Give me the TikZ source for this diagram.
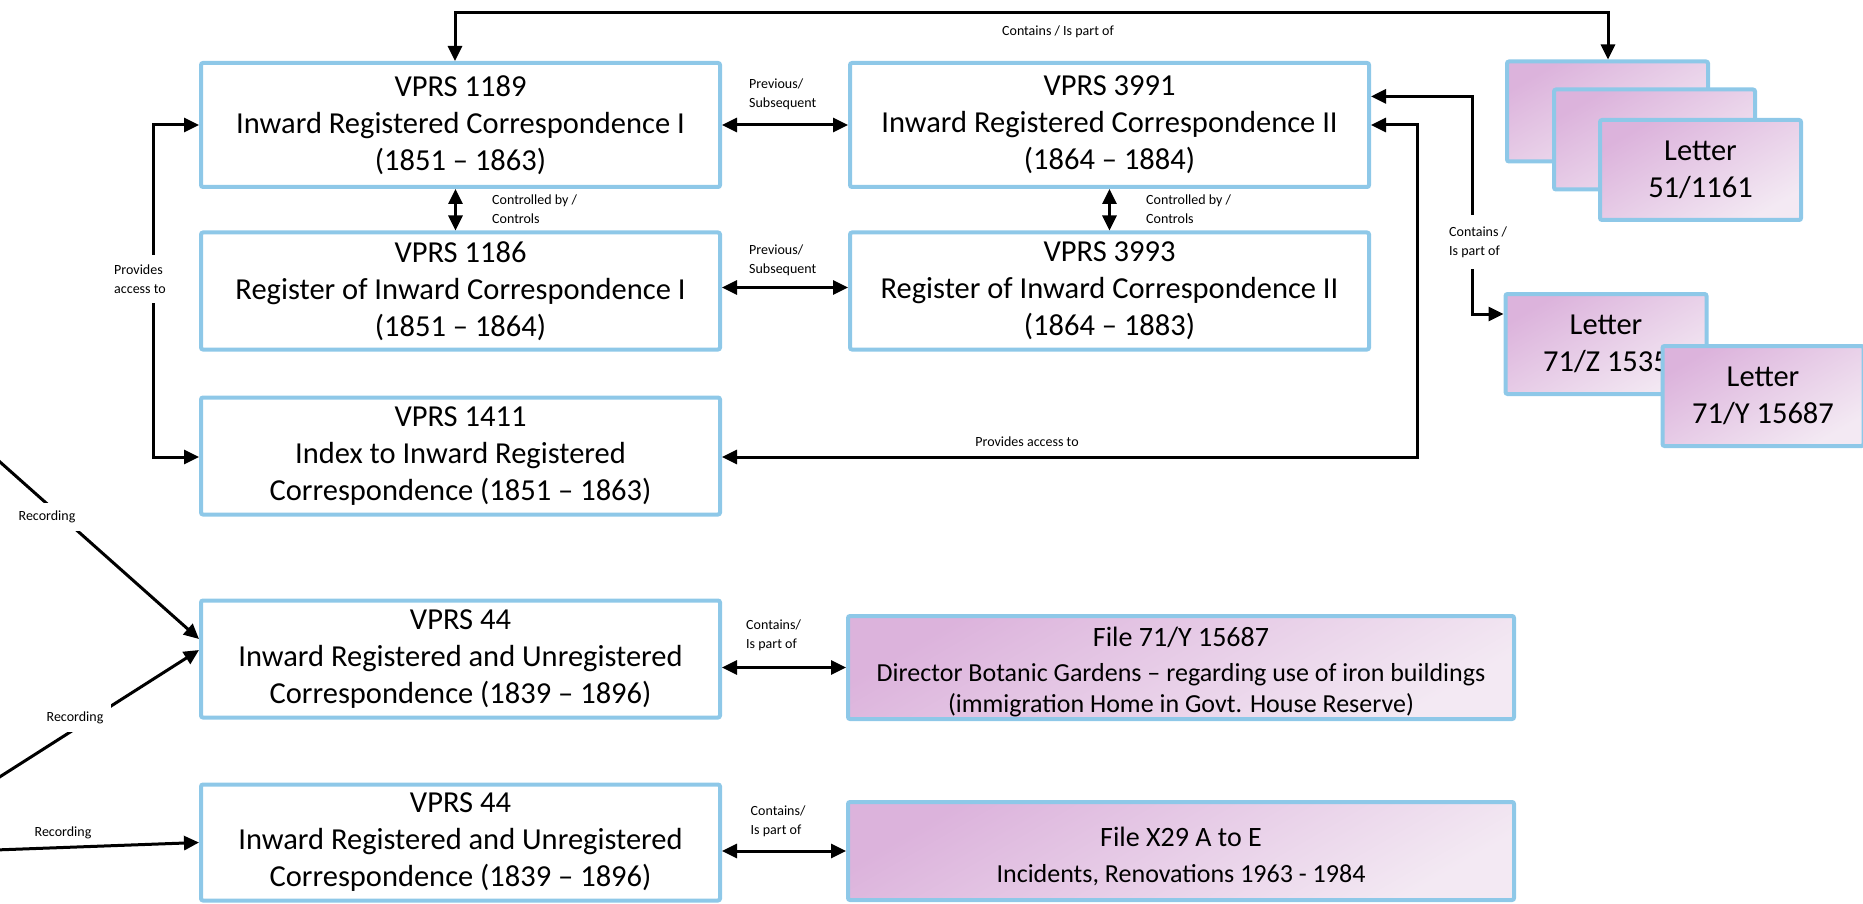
\documentclass[tikz,border=0pt]{standalone}
\usepackage{fontspec}
\setmainfont{Carlito}
\usetikzlibrary{arrows.meta}
\definecolor{bblue}{HTML}{8EC8E8}
\definecolor{ptop}{HTML}{DCB3DC}
\definecolor{pbot}{HTML}{F3E9F3}
\tikzset{
  vbox/.style={draw=bblue, line width=4pt, fill=white, rounded corners=2pt, align=center,
    font=\fontsize{30.5}{37}\selectfont, inner sep=0pt, minimum width=519pt, minimum height=124pt},
  pbox/.style={draw=bblue, line width=4pt, rounded corners=2pt, align=center,
    top color=ptop, bottom color=pbot, shading angle=30, inner sep=0pt},
  lbox/.style={pbox, font=\fontsize{30.5}{37}\selectfont, minimum width=201pt, minimum height=100pt},
  fbox/.style={pbox, minimum width=666pt},
  ftext/.style={align=center, inner sep=0pt, font=\fontsize{26}{31}\selectfont},
  conn/.style={line width=3pt, >={Triangle[length=15pt,width=14pt]}},
  lab/.style={font=\fontsize{14}{19}\selectfont, inner sep=0pt, align=left},
  wlab/.style={lab, fill=white, inner xsep=3pt, inner ysep=10pt}
}
\begin{document}
\begin{tikzpicture}[x=1pt, y=-1pt]
\useasboundingbox (0,0) rectangle (1863,904);
\clip (0,0) rectangle (1863,904);

% series boxes
\node[vbox] (A) at (460.5,125) {VPRS 1189\\Inward Registered Correspondence I\\(1851 -- 1863)};
\node[vbox, minimum height=117pt] (B) at (460.5,291) {VPRS 1186\\Register of Inward Correspondence I\\(1851 -- 1864)};
\node[vbox, minimum height=117pt] (C) at (460.5,456) {VPRS 1411\\Index to Inward Registered\\Correspondence (1851 -- 1863)};
\node[vbox] (D) at (1109.5,125) {VPRS 3991\\Inward Registered Correspondence II\\(1864 -- 1884)};
\node[vbox, minimum height=117pt] (E) at (1109.5,291) {VPRS 3993\\Register of Inward Correspondence II\\(1864 -- 1883)};
\node[vbox, minimum height=117pt] (F) at (460.5,659) {VPRS 44\\Inward Registered and Unregistered\\Correspondence (1839 -- 1896)};
\node[vbox, minimum height=116pt] (G) at (460.5,842.5) {VPRS 44\\Inward Registered and Unregistered\\Correspondence (1839 -- 1896)};

% file boxes
\node[fbox, minimum height=103pt] (H) at (1181,667.5) {};
\node[ftext] (Ht) at (1181,672.5)
  {{\fontsize{28}{34}\selectfont File 71/Y 15687}\\[4pt]Director Botanic Gardens -- regarding use of iron buildings\\(immigration Home in Govt. House Reserve)};
\node[fbox, minimum height=98pt] (I) at (1181,851) {};
\node[ftext] (It) at (1181,856)
  {{\fontsize{28}{34}\selectfont File X29 A to E}\\[5pt]Incidents, Renovations 1963 - 1984};

% letter boxes
\node[lbox] (L1) at (1607.5,111.5) {};
\node[lbox] (L2) at (1654.5,139.5) {};
\node[lbox] (L3) at (1700.5,170) {Letter\\51/1161};
\node[lbox] (L4) at (1606,344) {Letter\\71/Z 1535};
\node[lbox] (L5) at (1763,396) {Letter\\71/Y 15687};

% helper coordinates
\coordinate (tA) at (455,13);
\coordinate (tL) at (1608,13);
\coordinate (pl) at (153,280);
\coordinate (cx) at (1472.7,240);
\coordinate (rx) at (1417,300);
\coordinate (src1) at (-100,373);
\coordinate (src2) at (-100,840.4);
\coordinate (src3) at (-100,853.5);

% connectors
\draw[conn,<->] (A.north -| tA) -- (tA) -- (tL) -- (L1.north -| tL);
\node[lab] (lt) at (1058,32) {Contains / Is part of};

\draw[conn,<->] (A.east) -- (D.west);
\node[lab, anchor=west] (lp1) at (749,94) {Previous/\\Subsequent};
\draw[conn,<->] ([yshift=3.5pt]B.east) -- ([yshift=3.5pt]E.west);
\node[lab, anchor=west] (lp2) at (749,260.5) {Previous/\\Subsequent};

\draw[conn,<->] ([xshift=-5pt]A.south) -- ([xshift=-5pt]B.north);
\node[lab, anchor=west] (lc1) at (492,209.5) {Controlled by /\\Controls};
\draw[conn,<->] (D.south) -- (E.north);
\node[lab, anchor=west] (lc2) at (1146,209.5) {Controlled by /\\Controls};

\draw[conn,<->] (A.west) -| (pl) |- ([yshift=-1pt]C.west);
\node[wlab] (lpa) at (140,279) {Provides\\access to};

\draw[conn,<->] ([yshift=28.6pt]D.east) -| (cx) |- ([yshift=30pt]L4.west);
\node[wlab, anchor=west, inner ysep=12pt] (lci) at (1446,242) {Contains /\\Is part of};

\draw[conn,<->] (D.east) -| (rx) |- ([yshift=-1pt]C.east);
\node[lab] (lpr) at (1027,442) {Provides access to};

\draw[conn,<->] (H.west -| F.east) -- (H.west);
\node[lab, anchor=west] (lf1) at (746,635.5) {Contains/\\Is part of};
\draw[conn,<->] (I.west -| G.east) -- (I.west);
\node[lab, anchor=west] (lf2) at (750.5,821) {Contains/\\Is part of};

% recording
\draw[conn,->] (src1) -- ([yshift=20pt]F.west);
\node[wlab, inner sep=8pt] (r1) at (47,517) {Recording};
\draw[conn,->] (src2) -- ([yshift=9pt]F.west);
\node[wlab, inner sep=8pt] (r2) at (75,718) {Recording};
\draw[conn,->] (src3) -- (G.west);
\node[lab] (r3) at (63,833) {Recording};
\end{tikzpicture}
\end{document}
